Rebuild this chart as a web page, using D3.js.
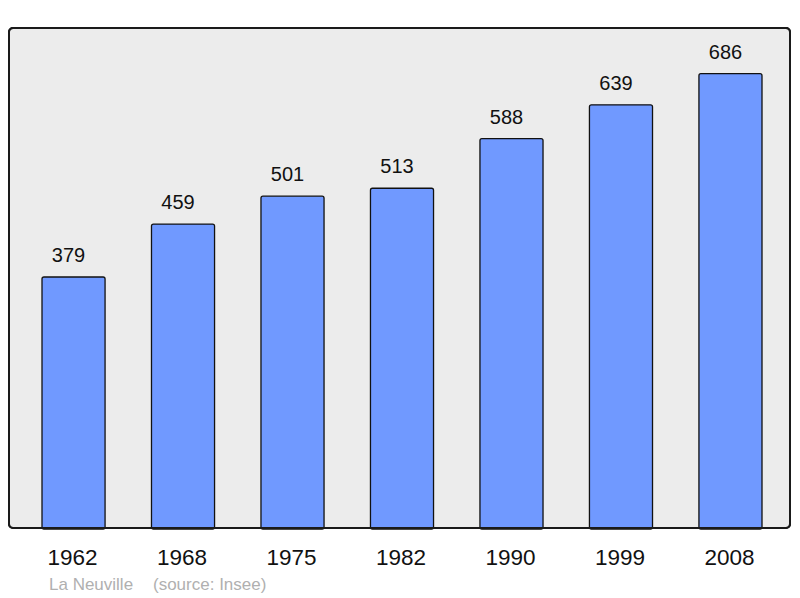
<!DOCTYPE html>
<html>
  <head>
    <script src="https://d3js.org/d3.v7.min.js" charset="utf-8"></script>
    <meta charset="UTF-8">
    <title>La Neuville population</title>
    <style>
      body { margin: 0; background: #fff; }
      text { font-family: "Liberation Sans", Arial, sans-serif; }
    </style>
  </head>
  <body>
    <svg class="chart"></svg>
    <script type="text/javascript">

      var years = ["1962", "1968", "1975", "1982", "1990", "1999", "2008"];
      var population = [379, 459, 501, 513, 588, 639, 686];
      var footer = ["La Neuville", "(source: Insee)"];

      var width = 800,
          height = 598,
          frame = {x: 9, y: 28, w: 781, h: 500};

      var chart = d3.select(".chart")
          .attr("width", width)
          .attr("height", height);

      var x = d3.scaleBand()
          .domain(years)
          .range([42, 762])
          .paddingInner(0.424)
          .paddingOuter(0);

      var y = d3.scaleLinear()
          .domain([0, 755])
          .range([frame.y + frame.h, frame.y]);

      chart.append("rect")
          .attr("x", frame.x)
          .attr("y", frame.y)
          .attr("width", frame.w)
          .attr("height", frame.h)
          .attr("rx", 4)
          .attr("fill", "#ececec")
          .attr("stroke", "#1a1a1a")
          .attr("stroke-width", 2);

      var data = years.map(function(d, i) { return {year: d, value: population[i]}; });

      var bars = chart.append("g")
          .selectAll("g")
          .data(data)
          .enter().append("g");

      bars.append("rect")
          .attr("x", function(d) { return x(d.year); })
          .attr("y", function(d) { return y(d.value); })
          .attr("width", x.bandwidth())
          .attr("height", function(d) { return y(0) - y(d.value) + 1; })
          .attr("rx", 2)
          .attr("fill", "#7099ff")
          .attr("stroke", "#111")
          .attr("stroke-width", 1.3);

      bars.append("text")
          .attr("x", function(d) { return x(d.year) + x.bandwidth() / 2 - 5; })
          .attr("y", function(d) { return y(d.value) - 15; })
          .attr("text-anchor", "middle")
          .attr("font-size", 20)
          .attr("fill", "#111")
          .text(function(d) { return d.value; });

      // frame border on top of the bar bottoms
      chart.append("rect")
          .attr("x", frame.x)
          .attr("y", frame.y)
          .attr("width", frame.w)
          .attr("height", frame.h)
          .attr("rx", 4)
          .attr("fill", "none")
          .attr("stroke", "#1a1a1a")
          .attr("stroke-width", 2);

      chart.append("g")
          .selectAll("text")
          .data(years)
          .enter().append("text")
          .attr("x", function(d) { return x(d) + x.bandwidth() / 2 - 1; })
          .attr("y", 565)
          .attr("text-anchor", "middle")
          .attr("font-size", 22.5)
          .attr("fill", "#111")
          .text(function(d) { return d; });

      chart.append("text")
          .attr("x", 49)
          .attr("y", 590)
          .attr("font-size", 17)
          .attr("fill", "#b0b0b0")
          .text(footer[0]);

      chart.append("text")
          .attr("x", 153)
          .attr("y", 590)
          .attr("font-size", 17)
          .attr("fill", "#b0b0b0")
          .text(footer[1]);

    </script>
  </body>
</html>
